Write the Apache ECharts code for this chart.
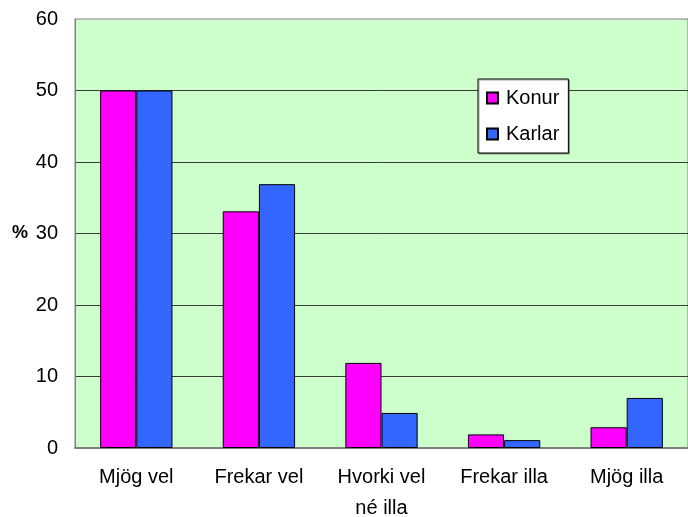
<!DOCTYPE html>
<html>
<head>
<meta charset="utf-8">
<script src="https://cdn.jsdelivr.net/npm/echarts@6/dist/echarts.min.js"></script>
<style>
  html, body { margin: 0; padding: 0; background: #fff; }
  #main { width: 688px; height: 517px; }
</style>
</head>
<body>
<div id="main"></div>
<script>
var categories = ['Mjög vel', 'Frekar vel', 'Hvorki vel\nné illa', 'Frekar illa', 'Mjög illa'];
var konur = [50, 33.1, 11.9, 1.9, 2.9];
var karlar = [50, 36.9, 4.9, 1.1, 7];
var seriesNames = ['Konur', 'Karlar'];

var myChart = echarts.init(document.getElementById('main'));
var font = 'Liberation Sans, Arial, sans-serif';

var option = {
    animation: false,
    backgroundColor: '#ffffff',
    grid: {
        left: 75,
        right: 0,
        top: 19,
        height: 429,
        outerBoundsMode: 'none',
        containLabel: false,
        show: true,
        backgroundColor: '#ccffcc',
        borderColor: '#808080',
        borderWidth: 1
    },
    legend: {
        data: seriesNames,
        orient: 'vertical',
        left: 478,
        top: 79,
        padding: [9, 9, 9, 8],
        itemGap: 16,
        itemWidth: 11,
        itemHeight: 11,
        icon: 'rect',
        backgroundColor: '#ffffff',
        borderColor: '#000000',
        borderWidth: 1,
        shadowColor: 'rgba(0,0,0,0.35)',
        shadowOffsetX: 1,
        shadowOffsetY: 1,
        textStyle: { fontFamily: font, fontSize: 20, color: '#000', padding: [0, 0, 0, 3] }
    },
    xAxis: {
        type: 'category',
        data: categories,
        axisLine: { show: true, lineStyle: { color: '#808080', width: 2 } },
        axisTick: { show: false },
        axisLabel: {
            fontFamily: font,
            fontSize: 20,
            color: '#000',
            margin: 14,
            lineHeight: 31,
            interval: 0
        }
    },
    yAxis: {
        type: 'value',
        min: 0,
        max: 60,
        interval: 10,
        name: '%',
        nameLocation: 'middle',
        nameRotate: 0,
        nameGap: 47,
        nameTextStyle: { fontFamily: font, fontSize: 18, fontWeight: 'bold', color: '#000' },
        axisLine: { show: true, lineStyle: { color: '#808080', width: 1 } },
        axisTick: { show: false },
        axisLabel: { fontFamily: font, fontSize: 20, color: '#000', margin: 17 },
        splitLine: {
            show: true,
            showMinLine: false,
            showMaxLine: false,
            lineStyle: { color: '#3a3a3a', width: 1 }
        }
    },
    series: [
        {
            name: seriesNames[0],
            type: 'bar',
            data: konur,
            barGap: '0%',
            barCategoryGap: '41%',
            itemStyle: { color: '#ff00ff', borderColor: '#000', borderWidth: 1 }
        },
        {
            name: seriesNames[1],
            type: 'bar',
            data: karlar,
            barGap: '0%',
            barCategoryGap: '41%',
            itemStyle: { color: '#3366ff', borderColor: '#000', borderWidth: 1 }
        }
    ]
};
myChart.setOption(option);
</script>
</body>
</html>
